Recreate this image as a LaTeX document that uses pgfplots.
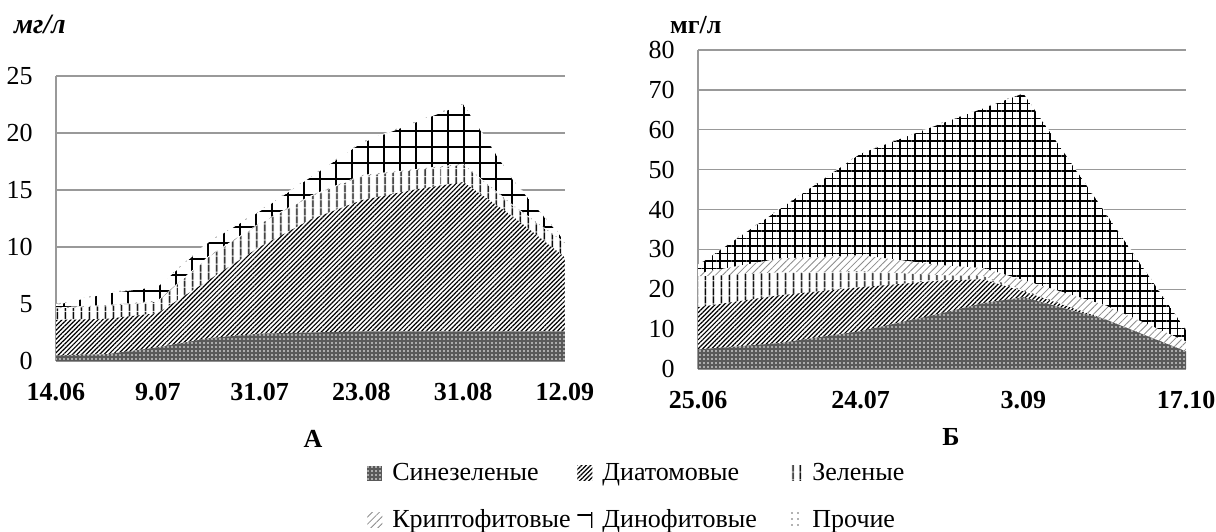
\documentclass[border=0pt]{standalone}
\usepackage{fontspec}
\setmainfont{Liberation Serif}
\usepackage{pgfplots}
\pgfplotsset{compat=1.18}
\usepackage{pgfplotstable}
\usetikzlibrary{patterns.meta}

\pgfplotstableread{
x    s    d    g    c    n    o
0    0.5  3.1  1.0  0.1  0.2  0.1
0.5  0.6  3.1  1.1  0.1  1.0  0.1
1    1.2  3.0  1.0  0.1  1.2  0.1
1.5  2.0  5.1  2.0  0.1  1.2  0.1
2    2.4  7.6  2.0  0.1  1.0  0.1
2.5  2.5  9.9  2.0  0.1  1.6  0.1
3    2.6  11.5 2.1  0.1  2.8  0.1
3.5  2.6  12.4 1.7  0.1  4.0  0.1
4    2.6  13.1 1.5  0.1  5.2  0.1
4.5  2.6  10.0 0.9  0.1  2.1  0.1
5    2.6  6.5  1.2  0.1  0.1  0.1
}\dataA

\pgfplotstableread{
x     s     d     g    c    n     o
0     4.9   10.6  7.7  0.8  2.0   0.2
0.5   6.5   12.0  5.7  3.5  12.3  0.2
1     9.5   11.0  4.0  4.0  25.5  0.2
1.5   14.0  8.2   1.3  2.5  35.6  0.2
1.75  16.5  6.0   0.8  2.0  40.0  0.2
2     18.0  1.5   0.3  2.5  46.8  0.2
2.5   12.5  0     0    3.5  23.4  0.2
3     4.4   0     0    2.5  2.8   0.2
}\dataB

\pgfplotsset{
  sinez/.style={draw=none, fill=black!65, postaction={pattern={Dots[distance=2pt,radius=0.45pt]}, pattern color=white}},
  diat/.style={draw=none, fill=white, postaction={pattern={Lines[angle=45,distance=1.6pt,line width=0.6pt]}, pattern color=black}},
  zel/.style={draw=none, fill=white, postaction={pattern={Lines[angle=90,distance=4pt,line width=0.8pt]}, pattern color=black}},
  krip/.style={draw=none, fill=white, postaction={pattern={Lines[angle=45,distance=2.5pt,line width=0.4pt]}, pattern color=black!45}},
  dinoA/.style={draw=none, fill=white, postaction={pattern={Hatch[angle=0,distance=8pt,line width=0.8pt]}, pattern color=black}},
  dinoB/.style={draw=none, fill=white, postaction={pattern={Hatch[angle=0,distance=3.75pt,line width=0.6pt]}, pattern color=black}},
  proch/.style={draw=none, fill=white, postaction={pattern={Dots[distance=3pt,radius=0.4pt]}, pattern color=black!60}},
  common/.style={
    scale only axis,
    anchor=south west,
    stack plots=y,
    axis x line*=bottom,
    axis y line*=left,
    axis line style={black!40, line width=0.7pt},
    ymajorgrids,
    grid style={black!40, line width=0.7pt},
    major tick length=0pt,
    tick label style={font=\fontsize{13}{15}\selectfont},
    /pgf/number format/assume math mode=true,
    yticklabel style={anchor=east, inner sep=0pt, xshift=-11.5pt},
    xticklabel style={font=\fontsize{13}{15}\selectfont\bfseries, anchor=north, inner sep=0pt, yshift=-11pt},
    legend image code/.code={\path[##1] (0pt,-3.5pt) rectangle (7.5pt,4pt);},
  },
}

\begin{document}
\begin{tikzpicture}[font=\fontsize{13}{15}\selectfont]
\path[use as bounding box] (0,0) rectangle (608pt,-265.5pt);

\begin{axis}[common,
  at={(28pt,-180.5pt)},
  width=254.5pt, height=142.5pt,
  xmin=0, xmax=5, ymin=0, ymax=25,
  ytick={0,5,10,15,20,25},
  xtick={0,1,2,3,4,5},
  xticklabels={14.06,9.07,31.07,23.08,31.08,12.09},
  legend columns=3,
  legend style={draw=none, fill=none, inner sep=0pt,
    at={(0.611,-0.344)}, anchor=north west,
    font=\fontsize{13}{15}\selectfont,
    row sep=9pt,
    /tikz/every odd column/.append style={column sep=3pt},
    /tikz/every even column/.append style={column sep=5pt}},
]
\addplot[sinez] table[x=x,y=s]{\dataA} \closedcycle;
\addlegendentry{\makebox[85.5pt][l]{Синезеленые}}
\addplot[diat] table[x=x,y=d]{\dataA} \closedcycle;
\addlegendentry{\makebox[85.5pt][l]{Диатомовые}}
\addplot[zel] table[x=x,y=g]{\dataA} \closedcycle;
\addlegendentry{\makebox[85.5pt][l]{Зеленые}}
\addplot[krip] table[x=x,y=c]{\dataA} \closedcycle;
\addlegendentry{\makebox[85.5pt][l]{Криптофитовые}}
\addplot[dinoA] table[x=x,y=n]{\dataA} \closedcycle;
\addlegendentry{\makebox[85.5pt][l]{Динофитовые}}
\addplot[proch] table[x=x,y=o]{\dataA} \closedcycle;
\addlegendentry{\makebox[85.5pt][l]{Прочие}}
\end{axis}

\begin{axis}[common,
  at={(349pt,-184.5pt)},
  width=244pt, height=159.5pt,
  xmin=0, xmax=3, ymin=0, ymax=80,
  ytick={0,10,...,80},
  xtick={0,1,2,3},
  xticklabels={25.06,24.07,3.09,17.10},
]
\addplot[sinez] table[x=x,y=s]{\dataB} \closedcycle;
\addplot[diat] table[x=x,y=d]{\dataB} \closedcycle;
\addplot[zel] table[x=x,y=g]{\dataB} \closedcycle;
\addplot[krip] table[x=x,y=c]{\dataB} \closedcycle;
\addplot[dinoB] table[x=x,y=n]{\dataB} \closedcycle;
\addplot[proch] table[x=x,y=o]{\dataB} \closedcycle;
\end{axis}

\node[font=\fontsize{14}{16}\selectfont\bfseries\itshape, anchor=base west] at (3.5pt,-16.5pt) {мг/л};
\node[font=\fontsize{13}{15}\selectfont\bfseries, anchor=base west] at (331.5pt,-16.5pt) {мг/л};
\node[font=\fontsize{13}{15}\selectfont\bfseries, anchor=base] at (156.5pt,-223.5pt) {А};
\node[font=\fontsize{13}{15}\selectfont\bfseries, anchor=base] at (475.5pt,-222.5pt) {Б};
\end{tikzpicture}
\end{document}
